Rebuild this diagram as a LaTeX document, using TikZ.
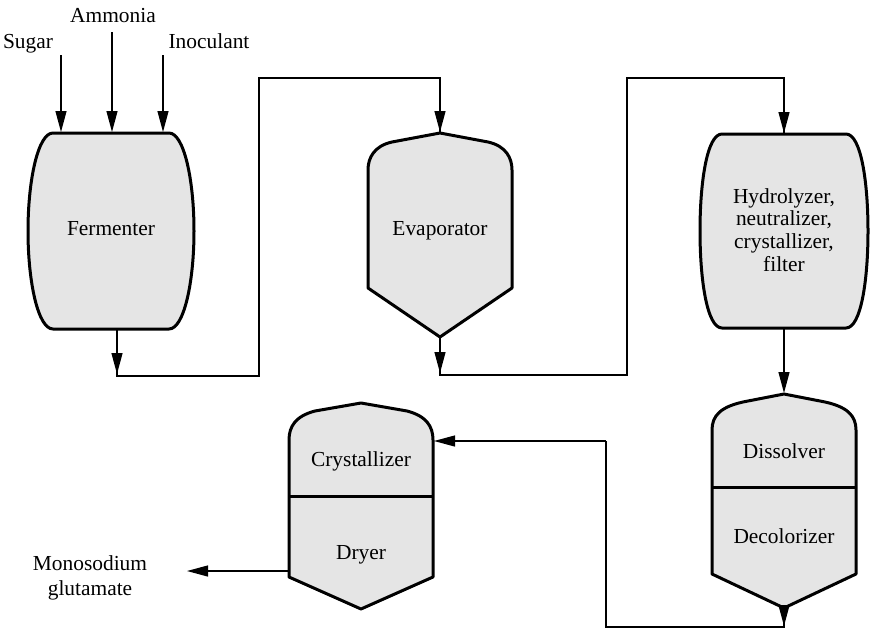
\documentclass[tikz,border=0pt]{standalone}
\usepackage{fontspec}
\setmainfont{LiberationSerif}[Extension=.ttf,UprightFont=*-Regular,BoldFont=*-Bold]
\usetikzlibrary{arrows.meta}
\tikzset{
  vessel/.style={line width=1.5pt, fill=black!10, line join=round},
  divider/.style={line width=1.5pt},
  conn/.style={line width=0.6pt},
  arr/.style={conn, -{Triangle[length=10.5pt,width=5.5pt]}},
  lbl/.style={font=\fontsize{10.7pt}{11.35pt}\selectfont, inner sep=0pt, anchor=base},
  mlbl/.style={font=\fontsize{10.7pt}{11.35pt}\selectfont, inner sep=0pt, align=center},
}
\begin{document}
\begin{tikzpicture}[x=0.5pt, y=-0.5pt]
\useasboundingbox (0,0) rectangle (872,638);

% ---------- Fermenter ----------
\draw[vessel] (53,133) -- (169,133) .. controls (184,133) and (194,180) .. (194,231)
  .. controls (194,282) and (184,329) .. (169,329) -- (53,329)
  .. controls (38,329) and (28,282) .. (28,231) .. controls (28,180) and (38,133) .. (53,133) -- cycle;
\node[lbl] (fermtext) at (111,235) {Fermenter};
\coordinate (ferm-n1) at (61,132);
\coordinate (ferm-n2) at (112,132);
\coordinate (ferm-n3) at (163,132);
\coordinate (ferm-s) at (117,329);

% ---------- Evaporator ----------
\draw[vessel] (440,133) -- (392,142) .. controls (374,146) and (368,158) .. (368,170)
  -- (368,288) -- (440,337) -- (512,288) -- (512,170)
  .. controls (512,158) and (506,146) .. (488,142) -- cycle;
\node[lbl] (evaptext) at (440,235) {Evaporator};
\coordinate (evap-n) at (440,132);
\coordinate (evap-s) at (440,337);

% ---------- Hydrolyzer ----------
\draw[vessel] (722,134) -- (846,134) .. controls (861,134) and (868,182) .. (868,231)
  .. controls (868,280) and (861,328) .. (846,328) -- (722,328)
  .. controls (707,328) and (700,280) .. (700,231) .. controls (700,182) and (707,134) .. (722,134) -- cycle;
\node[mlbl] (hydtext) at (784,230) {Hydrolyzer,\\neutralizer,\\crystallizer,\\filter};
\coordinate (hyd-n) at (784,133);
\coordinate (hyd-s) at (784,328);

% ---------- Dissolver / Decolorizer ----------
\draw[vessel] (784,394) -- (748,401) .. controls (720,406) and (712,416) .. (712,430)
  -- (712,574) -- (784,608) -- (856,574) -- (856,430)
  .. controls (856,416) and (848,406) .. (820,401) -- cycle;
\draw[divider] (712,487) -- (856,487);
\node[lbl] (disstext) at (784,458) {Dissolver};
\node[lbl] (dectext) at (784,543) {Decolorizer};
\coordinate (diss-n) at (784,393);
\coordinate (diss-s) at (784,608);

% ---------- Crystallizer / Dryer ----------
\draw[vessel] (361,403) -- (315,411) .. controls (296,416) and (289,426) .. (289,440)
  -- (289,577) -- (361,609) -- (433,577) -- (433,440)
  .. controls (433,426) and (426,416) .. (407,411) -- cycle;
\draw[divider] (289,496) -- (433,496);
\node[lbl] (crytext) at (361,466) {Crystallizer};
\node[lbl] (drytext) at (361,559) {Dryer};
\coordinate (cry-e) at (434,441);
\coordinate (cry-w) at (289,571);

% ---------- Feed labels and arrows ----------
\node[lbl] (sugar) at (28,48) {Sugar};
\node[lbl] (ammonia) at (113,22) {Ammonia};
\node[lbl] (inoc) at (209,48) {Inoculant};
\coordinate (sugar-s) at (61,55);
\coordinate (ammonia-s) at (112,32);
\coordinate (inoc-s) at (163,55);
\draw[arr] (sugar-s) -- (ferm-n1);
\draw[arr] (ammonia-s) -- (ferm-n2);
\draw[arr] (inoc-s) -- (ferm-n3);

% ---------- Fermenter -> Evaporator ----------
\coordinate (a1) at (117,374);
\coordinate (j1) at (117,376);
\coordinate (r1) at (259,78);
\draw[arr] (ferm-s) -- (a1);
\draw[conn] (ferm-s) -- (j1) -| (r1) -| (evap-n);
\draw[arr] (440,100) -- (evap-n);

% ---------- Evaporator -> Hydrolyzer ----------
\coordinate (a2) at (440,373);
\coordinate (j2) at (440,375);
\coordinate (r2) at (627,78);
\draw[arr] (evap-s) -- (a2);
\draw[conn] (evap-s) -- (j2) -| (r2) -| (hyd-n);
\draw[arr] (784,100) -- (hyd-n);

% ---------- Hydrolyzer -> Dissolver ----------
\draw[arr] (hyd-s) -- (diss-n);

% ---------- Decolorizer -> Crystallizer ----------
\coordinate (a3) at (784,626);
\coordinate (j3) at (784,627);
\coordinate (r3) at (606,441);
\draw[arr] (diss-s) -- (a3);
\draw[conn] (diss-s) -- (j3) -| (r3);
\draw[arr] (r3) -- (cry-e);

% ---------- Product ----------
\node[mlbl, font=\fontsize{10.7pt}{12.5pt}\selectfont] (mono) at (90,578) {Monosodium\\glutamate};
\coordinate (mono-tip) at (187,571);
\draw[arr] (cry-w) -- (mono-tip);
\end{tikzpicture}
\end{document}
